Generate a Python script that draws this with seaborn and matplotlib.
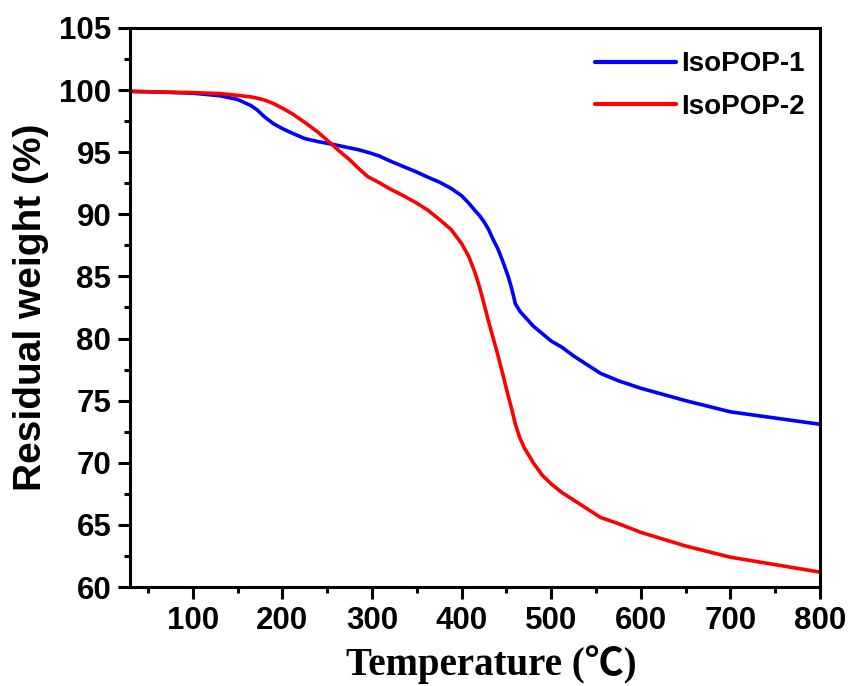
import matplotlib

matplotlib.use("Agg")

import matplotlib.pyplot as plt
import pandas
import seaborn as sns
from matplotlib.ticker import MultipleLocator
from pandas import DataFrame

temperature: list[int] = [
    30, 60, 100, 130, 150, 165, 172, 180, 190, 200, 212, 225, 240, 255, 265,
    275, 285, 295, 308, 320, 335, 350, 362, 375, 388, 400, 408, 415, 420, 425,
    430, 435, 440, 445, 452, 456, 460, 465, 470, 480, 490, 500, 512, 525, 540,
    555, 575, 600, 650, 700, 750, 800,
]

isoPop1: list[float] = [
    99.9, 99.85, 99.75, 99.55, 99.25, 98.75, 98.4, 97.85, 97.3, 96.9, 96.5,
    96.1, 95.85, 95.65, 95.5, 95.35, 95.2, 95.0, 94.7, 94.3, 93.85, 93.4, 93.0,
    92.6, 92.1, 91.5, 90.9, 90.3, 89.9, 89.4, 88.8, 88.0, 87.3, 86.4, 85.0,
    84.0, 82.8, 82.2, 81.8, 81.0, 80.4, 79.8, 79.3, 78.6, 77.9, 77.2, 76.6,
    76.0, 75.0, 74.1, 73.6, 73.1,
]

isoPop2: list[float] = [
    99.9, 99.85, 99.8, 99.72, 99.58, 99.45, 99.35, 99.2, 98.92, 98.55, 98.05,
    97.4, 96.6, 95.65, 95.0, 94.4, 93.7, 93.05, 92.55, 92.05, 91.5, 90.9,
    90.35, 89.6, 88.8, 87.65, 86.6, 85.3, 84.15, 82.8, 81.4, 80.1, 78.8, 77.4,
    75.4, 74.3, 73.1, 72.0, 71.2, 70.0, 69.0, 68.3, 67.6, 67.0, 66.3, 65.6,
    65.1, 64.4, 63.3, 62.4, 61.8, 61.2,
]

sampleNames: list[str] = ["IsoPOP-1", "IsoPOP-2"]
sampleColors: list[str] = ["#0000ff", "#ff0000"]


def buildFrame() -> DataFrame:
    frames: list[DataFrame] = []
    for name, values in zip(sampleNames, [isoPop1, isoPop2]):
        frames.append(
            DataFrame({"temperature": temperature, "weight": values, "sample": name})
        )
    return pandas.concat(frames, ignore_index=True)


def main() -> None:
    sns.set_theme(style="ticks")
    plt.rcParams["font.family"] = ["Liberation Sans", "DejaVu Sans"]
    plt.rcParams["font.weight"] = "bold"
    plt.rcParams["text.color"] = "black"
    plt.rcParams["axes.labelcolor"] = "black"
    plt.rcParams["xtick.color"] = "black"
    plt.rcParams["ytick.color"] = "black"

    df: DataFrame = buildFrame()

    fig = plt.figure(figsize=(8.56, 6.86), dpi=100)
    ax = fig.add_axes([0.1519, 0.1443, 0.8061, 0.8149])

    sns.lineplot(
        data=df,
        x="temperature",
        y="weight",
        hue="sample",
        palette=dict(zip(sampleNames, sampleColors)),
        linewidth=2.6,
        sort=False,
        estimator=None,
        ax=ax,
    )

    ax.set_xlim(30, 800)
    ax.set_ylim(60, 105)
    ax.xaxis.set_major_locator(MultipleLocator(100))
    ax.xaxis.set_minor_locator(MultipleLocator(50))
    ax.yaxis.set_major_locator(MultipleLocator(5))
    ax.yaxis.set_minor_locator(MultipleLocator(2.5))

    for spine in ax.spines.values():
        spine.set_linewidth(2.2)
        spine.set_color("black")

    ax.tick_params(
        which="major", length=8.5, width=2.2, labelsize=22.5, color="black",
        labelcolor="black", pad=5,
    )
    ax.tick_params(which="minor", length=4.5, width=2.2, color="black")
    ax.tick_params(top=False, right=False, which="both")
    for label in ax.get_xticklabels() + ax.get_yticklabels():
        label.set_fontweight("bold")

    ax.set_xlabel(
        "Temperature (℃)",
        fontsize=28,
        fontweight="bold",
        color="black",
        family=["Liberation Serif", "Noto Sans CJK SC", "DejaVu Serif"],
        labelpad=7,
    )
    ax.xaxis.label.set_x(0.523)
    ax.set_ylabel(
        "Residual weight (%)", fontsize=28, fontweight="bold", color="black",
        labelpad=7,
    )

    legend = ax.legend(
        loc="upper left",
        bbox_to_anchor=(0.674, 0.958),
        frameon=False,
        fontsize=20,
        handlelength=2.9,
        handletextpad=0.2,
        labelspacing=0.6,
        borderpad=0,
        borderaxespad=0,
    )
    for line in legend.get_lines():
        line.set_linewidth(3.0)
    for text in legend.get_texts():
        text.set_fontweight("bold")
        text.set_color("black")

    fig.savefig("out.png", dpi=100)
    plt.close(fig)


if __name__ == "__main__":
    main()
